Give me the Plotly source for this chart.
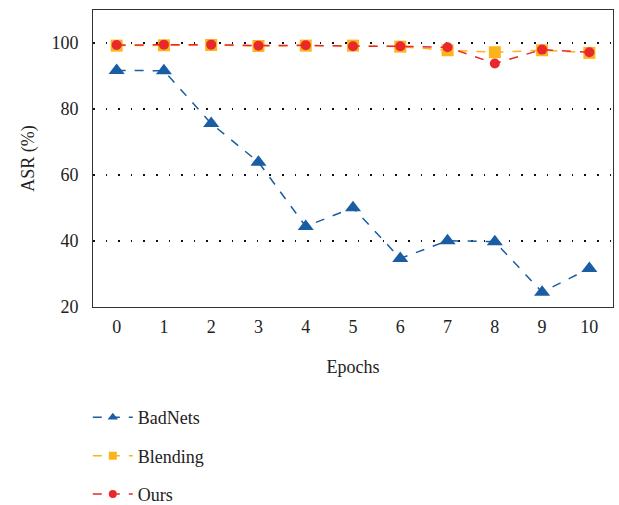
import plotly.graph_objects as go

epochs = [0, 1, 2, 3, 4, 5, 6, 7, 8, 9, 10]
badnets = [91.7, 91.6, 75.6, 63.9, 44.4, 50.1, 34.7, 40.1, 39.8, 24.5, 31.7]
blending = [99.2, 99.3, 99.4, 99.1, 99.2, 99.2, 98.9, 97.8, 97.2, 97.8, 97.0]
ours = [99.4, 99.5, 99.5, 99.2, 99.3, 99.0, 99.0, 98.7, 93.8, 98.0, 97.2]

series = [
    ("BadNets", badnets, "#1a5da3", "triangle-up", 14, 9),
    ("Blending", blending, "#fbb41c", "square", 12, 8),
    ("Ours", ours, "#e8282c", "circle", 10, 8),
]

FONT = "Liberation Serif"
fig = go.Figure()
for i, (name, vals, color, sym, size, lsize) in enumerate(series):
    fig.add_trace(go.Scatter(x=epochs, y=vals, name=name, mode="lines+markers",
                             showlegend=False, legendgroup=name,
                             line=dict(color=color, width=1.5, dash="dash"),
                             marker=dict(symbol=sym, size=size, color=color)))
    # legend-only entry with smaller marker icon
    fig.add_trace(go.Scatter(x=[None], y=[None], name=name, mode="lines+markers",
                             legendgroup=name,
                             line=dict(color=color, width=1.5, dash="dash"),
                             marker=dict(symbol=sym, size=lsize, color=color)))

fig.update_layout(
    width=619, height=505,
    margin=dict(l=93, r=6, t=10, b=198, autoexpand=False),
    paper_bgcolor="white", plot_bgcolor="white",
    font=dict(family=FONT, size=18, color="#222"),
    showlegend=True,
    legend=dict(x=-0.01, y=-0.31, xanchor="left", yanchor="top",
                orientation="v", font=dict(family=FONT, size=18),
                traceorder="grouped", tracegroupgap=12, itemwidth=40),
    xaxis=dict(range=[-0.5, 10.5], tickmode="array", tickvals=epochs,
               ticktext=[str(e) for e in epochs],
               showgrid=False, zeroline=False, showline=True, linecolor="#333",
               linewidth=1, mirror=True, ticks="", ticklabelstandoff=3,
               title=dict(text="Epochs", font=dict(size=18), standoff=24)),
    yaxis=dict(range=[20, 110], tickvals=[20, 40, 60, 80, 100],
               showgrid=True, gridcolor="#111", griddash="1.6px,11px", gridwidth=1.6,
               zeroline=False, showline=True, linecolor="#333", linewidth=1,
               mirror=True, ticks="", ticklabelstandoff=10,
               title=dict(text="ASR (%)", font=dict(size=18), standoff=12)),
)
fig.write_html("out.html")
